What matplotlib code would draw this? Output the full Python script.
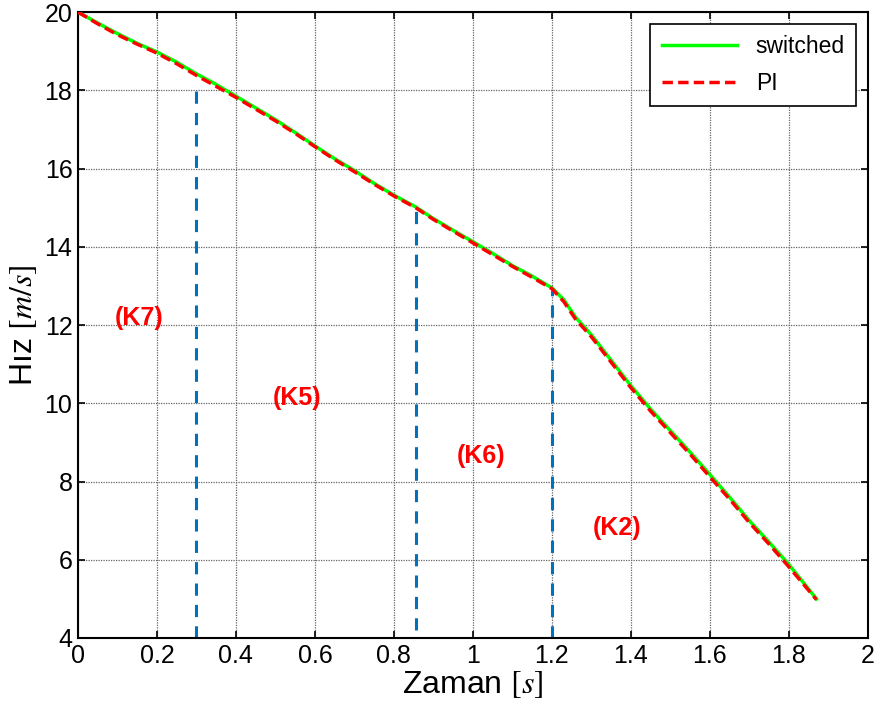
import matplotlib
matplotlib.use("Agg")
import matplotlib.pyplot as plt
from matplotlib import font_manager

names = {f.name for f in font_manager.fontManager.ttflist}
narrow = "Liberation Sans Narrow" if "Liberation Sans Narrow" in names else "Liberation Sans"
plt.rcParams['font.family'] = [narrow, 'DejaVu Sans']
plt.rcParams['mathtext.fontset'] = 'stix'

# data
t = [0.0, 0.05, 0.1, 0.15, 0.2, 0.25, 0.3, 0.35, 0.4, 0.45, 0.5, 0.55, 0.6, 0.65, 0.7,
     0.75, 0.8, 0.855, 0.9, 0.95, 1.0, 1.05, 1.1, 1.15, 1.2, 1.23, 1.26, 1.3, 1.35,
     1.4, 1.45, 1.5, 1.55, 1.6, 1.65, 1.7, 1.75, 1.8, 1.87]
v_switched = [20.0, 19.72, 19.45, 19.2, 18.98, 18.72, 18.42, 18.15, 17.85, 17.55, 17.25,
              16.92, 16.58, 16.25, 15.95, 15.62, 15.32, 15.02, 14.72, 14.42, 14.13, 13.83,
              13.52, 13.25, 12.95, 12.65, 12.2, 11.75, 11.1, 10.45, 9.85, 9.3, 8.75,
              8.18, 7.6, 7.0, 6.45, 5.88, 5.0]
v_pi = [20.0, 19.7, 19.42, 19.18, 18.95, 18.68, 18.38, 18.1, 17.82, 17.52, 17.22,
        16.9, 16.56, 16.23, 15.92, 15.6, 15.3, 15.0, 14.7, 14.4, 14.1, 13.8,
        13.5, 13.22, 12.93, 12.6, 12.15, 11.7, 11.05, 10.4, 9.8, 9.25, 8.7,
        8.12, 7.55, 6.95, 6.4, 5.82, 4.98]

switch_x = [0.3, 0.855, 1.2]
switch_ybot = [4.0, 4.2, 4.0]
switch_ytop = [18.1, 15.0, 12.9]

region_labels = ["(K7)", "(K5)", "(K6)", "(K2)"]
region_x = [0.154, 0.555, 1.02, 1.365]
region_y = [12.17, 10.13, 8.64, 6.8]

fig = plt.figure(figsize=(8.81, 7.11), dpi=100)
ax = fig.add_axes([0.0885, 0.1027, 0.8965, 0.8803])

ax.plot(t, v_switched, color='#00ff00', lw=2.5, label='switched', zorder=3)
ax.plot(t, v_pi, color='#ff0000', lw=2.5, ls=(0, (3, 1.5)), label='PI', zorder=4)

for x, yb, yt in zip(switch_x, switch_ybot, switch_ytop):
    ax.plot([x, x], [yb, yt], color='#0072bd', lw=2.2, ls=(0, (4, 3)), zorder=2)

for s, x, y in zip(region_labels, region_x, region_y):
    ax.text(x, y, s, color='#ff0000', fontsize=18, fontweight='bold',
            ha='center', va='center', family=['Liberation Sans', 'DejaVu Sans'])

ax.set_xlim(0, 2)
ax.set_ylim(4, 20)
ax.set_xticks([0, 0.2, 0.4, 0.6, 0.8, 1, 1.2, 1.4, 1.6, 1.8, 2])
ax.set_xticklabels(['0', '0.2', '0.4', '0.6', '0.8', '1', '1.2', '1.4', '1.6', '1.8', '2'])
ax.set_yticks([4, 6, 8, 10, 12, 14, 16, 18, 20])
ax.grid(True, color='#666666', ls=(0, (1, 1)), lw=0.9)
ax.tick_params(direction='in', top=True, right=True, labelsize=18, length=5, width=1.2, pad=4)
for sp in ax.spines.values():
    sp.set_linewidth(1.5)

ax.set_xlabel(r'Zaman $[s]$', fontsize=23, labelpad=1)
ax.set_ylabel(r'Hız $[m/s]$', fontsize=23, labelpad=4)

leg = ax.legend(loc='upper right', frameon=True, fancybox=False,
                edgecolor='black', handlelength=3.3, borderaxespad=0.5,
                borderpad=0.5, labelspacing=0.6,
                prop={'family': ['Liberation Sans', 'DejaVu Sans'], 'size': 16.5})
leg.get_frame().set_linewidth(1.2)
leg.get_frame().set_alpha(1)

fig.savefig('out.png', dpi=100)
